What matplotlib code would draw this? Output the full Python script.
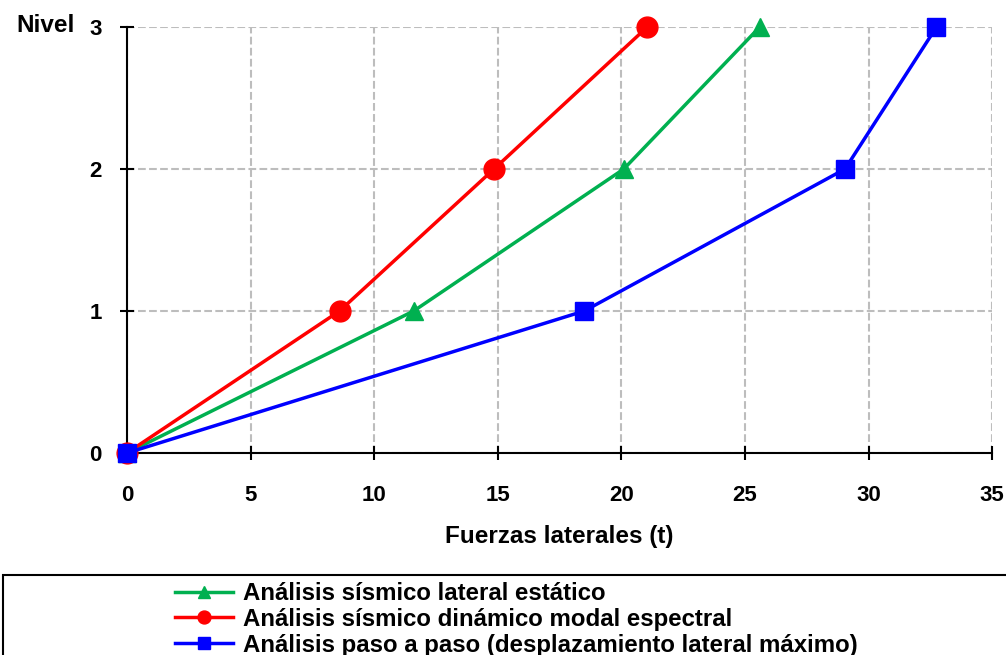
import matplotlib
matplotlib.use("Agg")
import matplotlib.pyplot as plt
from matplotlib.patches import Rectangle

plt.rcParams['font.family'] = ['Liberation Sans', 'DejaVu Sans']
plt.rcParams['font.weight'] = 'bold'

niveles = [0, 1, 2, 3]
estatico = [0, 11.6, 20.1, 25.6]
dinamico = [0, 8.6, 14.85, 21.05]
paso_a_paso = [0, 18.5, 29.05, 32.75]

etiquetas = ['Análisis sísmico lateral estático',
             'Análisis sísmico dinámico modal espectral',
             'Análisis paso a paso (desplazamiento lateral máximo)']

fig = plt.figure(figsize=(10.06, 6.55), dpi=100)
ax = fig.add_axes([0.1262, 0.3084, 0.86, 0.6504])

l1, = ax.plot(estatico, niveles, color='#00B050', lw=2.5, marker='^', ms=13, label=etiquetas[0])
l2, = ax.plot(dinamico, niveles, color='#FF0000', lw=2.5, marker='o', ms=15, label=etiquetas[1])
l3, = ax.plot(paso_a_paso, niveles, color='#0000FF', lw=2.5, marker='s', ms=13, label=etiquetas[2])

ax.set_xlim(0, 35)
ax.set_ylim(0, 3)
ax.set_xticks(range(0, 36, 5))
ax.set_yticks(niveles)
ax.grid(True, color='#BDBDBD', linestyle='--', lw=1.5)
ax.set_axisbelow(True)
for s in ['top', 'right']:
    ax.spines[s].set_visible(False)
for s in ['left', 'bottom']:
    ax.spines[s].set_linewidth(1.5)
    ax.spines[s].set_zorder(1)
ax.tick_params(direction='inout', length=10, width=1.5, labelsize=16)
ax.tick_params(axis='x', pad=18)
ax.tick_params(axis='y', pad=13)
for lab in ax.get_xticklabels() + ax.get_yticklabels():
    lab.set_fontweight('bold')
for l in (l1, l2, l3):
    l.set_clip_on(False)

ax.set_xlabel('Fuerzas laterales (t)', fontsize=17.5, fontweight='bold', labelpad=14)
fig.text(46 / 1006, 1 - 26 / 655, 'Nivel', fontsize=17.5, fontweight='bold', ha='center', va='center')

fig.patches.append(Rectangle((3 / 1006, -0.1), 1.2, 1 - 575 / 655 + 0.1,
                             transform=fig.transFigure, fill=False, ec='black', lw=1.5))
fig.legend(handles=[l1, l2, l3], loc='upper left', bbox_to_anchor=(175 / 1006, 1 - 582 / 655),
           frameon=False, handlelength=2.4, handletextpad=0.45,
           labelspacing=0.12, borderpad=0, borderaxespad=0, markerscale=0.62,
           prop={'weight': 'bold', 'size': 17.3})

fig.savefig('out.png', dpi=100)
